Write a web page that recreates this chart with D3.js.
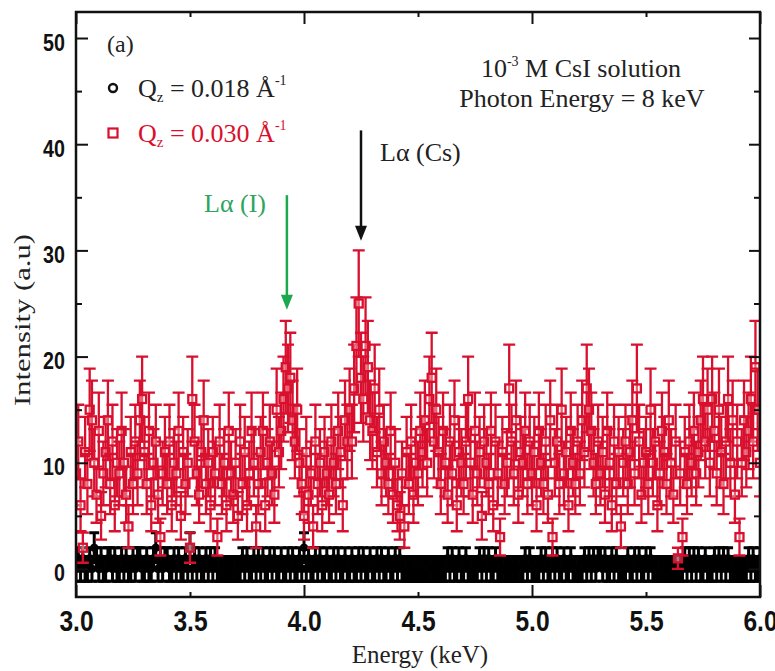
<!DOCTYPE html>
<html>
<head>
<meta charset="utf-8">
<script src="https://cdn.jsdelivr.net/npm/d3@7"></script>
<style>
    body { margin: 0; background: #fff; }
    .tickText { font-family: "Liberation Sans", Arial, sans-serif; font-weight: bold; fill: #111; }
    .serif { font-family: "Liberation Serif", "Times New Roman", serif; }
</style>
</head>
<body>
<svg class="spectrum"></svg>
<script>
// channels: one every 0.01 keV from 3.00 to 6.00
let energyStart = 3.0;
let energyStep = 0.01;
let xTicks = [3.0, 3.5, 4.0, 4.5, 5.0, 5.5, 6.0];
let yTicks = [0, 5, 10, 15, 20, 25, 30, 35, 40, 45, 50];

// Qz = 0.018 A^-1 (black circles), counts per channel
let lowQ = [
    0,1,0,1,0,0,1,0,2,1,  0,1,0,0,1,1,0,1,0,0,  1,0,1,0,0,1,0,1,1,0,
    0,1,0,0,1,2,0,1,0,1,  1,0,0,1,0,1,0,0,1,0,  2,0,1,0,1,0,0,1,0,1,
    0,1,0,0,0,0,0,0,0,0,  0,0,0,1,0,1,0,0,1,0,  1,0,1,0,0,1,0,1,0,0,
    1,0,0,1,0,1,0,0,1,0,  2,0,1,0,0,1,0,1,0,0,  1,0,0,1,0,1,0,0,1,0,
    0,1,0,0,1,0,1,0,0,1,  0,0,1,0,1,0,0,1,0,0,  1,0,1,0,0,0,0,0,0,0,
    0,0,0,0,0,0,0,0,0,0,  0,0,0,1,0,1,0,0,1,0,  0,1,0,0,0,0,0,1,0,1,
    0,1,0,0,1,0,0,0,0,0,  0,0,0,0,0,0,0,1,0,1,  0,0,0,0,1,0,1,0,0,1,
    0,1,0,0,1,0,0,1,0,0,  0,0,0,1,0,1,0,1,0,1,  1,0,1,0,0,1,0,1,0,0,
    0,0,1,0,0,1,0,1,0,0,  1,0,1,0,0,0,0,0,0,0,  0,0,0,0,0,0,0,1,0,1,
    0,1,0,1,0,0,1,0,0,0,  1,0,1,0,1,0,1,0,0,0,  0,0,0,0,0,1,0,1,0,0,
    1
];

// Qz = 0.030 A^-1 (red squares)
let highQ = [
    9,12,6,2,11,8,15,14,10,7,     13,5,9,11,14,8,12,6,10,9,     13,10,7,4,11,8,12,9,14,16,
    11,8,13,6,10,12,7,3,9,11,     8,12,6,10,9,13,5,11,8,10,     2,16,12,9,7,11,14,8,10,6,
    11,9,3,12,8,10,6,13,9,7,      10,5,12,8,11,6,9,13,10,4,     8,11,13,6,10,12,9,7,15,11,
    13,16,19,17,18,14,12,15,10,8, 5,11,7,9,4,12,8,10,6,11,      9,7,12,10,8,13,11,6,14,12,
    15,12,17,21,25,18,16,21,19,14, 13,17,11,15,9,12,10,8,13,7,  10,6,5,9,4,11,8,12,7,10,
    9,13,11,14,10,16,18,12,15,11, 8,13,10,7,12,9,14,6,11,10,    8,12,16,10,7,13,9,11,5,12,
    10,8,13,6,12,9,3,11,8,10,     17,12,9,14,7,11,10,13,8,12,   9,11,6,13,10,8,12,7,14,3,
    10,12,8,15,9,11,6,13,10,8,    12,9,14,11,17,15,13,10,8,12,  9,11,7,13,10,6,12,8,11,4,
    10,12,8,11,14,9,17,12,7,10,   11,8,15,10,12,6,9,13,11,8,    14,10,7,12,1,9,3,11,8,12,
    10,13,9,11,14,16,12,15,10,16, 13,9,15,11,8,12,16,10,14,7,   12,3,10,14,11,13,16,12,19,15,
    10
];

// arrow annotations (keV, intensity)
let csArrow = { e: 4.25, from: 41.3, to: 30.9 };
let iArrow = { e: 3.925, from: 35.2, to: 24.4 };

let red = "#d8102e";
let green = "#1ca84c";
let narrow = 0.82;

let width = 775;
let height = 671;
let plot = { left: 76, right: 760, top: 12, bottom: 597 };

let x = d3.scaleLinear().domain([3, 6]).range([plot.left, plot.right]);
let y = d3.scaleLinear().domain([-2.64, 52.45]).range([plot.bottom, plot.top]);

let svg = d3.select(".spectrum")
    .attr("width", width)
    .attr("height", height);

// counting error, with a one-count floor for empty channels
function countError(v) { return v > 0 ? Math.sqrt(v) : 1.15; }

function toPoints(values) {
    return values.map(function(v, i) {
        return { e: energyStart + i * energyStep, v: v, err: countError(v) };
    });
}

svg.append("clipPath").attr("id", "plotClip")
    .append("rect")
    .attr("x", plot.left).attr("y", plot.top)
    .attr("width", plot.right - plot.left).attr("height", plot.bottom - plot.top);

let dataG = svg.append("g").attr("clip-path", "url(#plotClip)");

function errorPath(d, cap) {
    let px = x(d.e), y0 = y(d.v - d.err), y1 = y(d.v + d.err);
    return "M" + px + "," + y0 + "V" + y1 +
        "M" + (px - cap) + "," + y0 + "H" + (px + cap) +
        "M" + (px - cap) + "," + y1 + "H" + (px + cap);
}

// black series
let lowG = dataG.append("g").selectAll("g")
    .data(toPoints(lowQ))
    .enter().append("g");
lowG.append("path")
    .attr("d", function(d) { return errorPath(d, 5); })
    .attr("stroke", "#000").attr("stroke-width", 3).attr("fill", "none");
lowG.append("circle")
    .attr("cx", function(d) { return x(d.e); })
    .attr("cy", function(d) { return y(d.v); })
    .attr("r", 3)
    .attr("fill", "none").attr("stroke", "#000").attr("stroke-width", 2.2);

// red series
let highG = dataG.append("g").selectAll("g")
    .data(toPoints(highQ))
    .enter().append("g");
highG.append("path")
    .attr("d", function(d) { return errorPath(d, 6); })
    .attr("stroke", red).attr("stroke-width", 2.3).attr("fill", "none");
highG.append("rect")
    .attr("x", function(d) { return x(d.e) - 4; })
    .attr("y", function(d) { return y(d.v) - 4; })
    .attr("width", 8).attr("height", 8)
    .attr("fill", "#fff").attr("fill-opacity", 0.35)
    .attr("stroke", red).attr("stroke-width", 2.3);

// axes, ticks inside the frame
function isMajorX(d) { return Math.abs(d - Math.round(d)) < 1e-6; }
function isMajorY(d) { return d % 10 === 0; }

let bottomAxis = svg.append("g")
    .attr("transform", "translate(0," + plot.bottom + ")")
    .call(d3.axisBottom(x).tickValues(xTicks).tickSizeInner(-5).tickSizeOuter(0)
        .tickPadding(13).tickFormat(d3.format(".1f")));
bottomAxis.selectAll(".tick line").attr("y2", function(d) { return isMajorX(d) ? -12 : -5; });

let topAxis = svg.append("g")
    .attr("transform", "translate(0," + plot.top + ")")
    .call(d3.axisTop(x).tickValues(xTicks).tickSizeInner(-5).tickSizeOuter(0).tickFormat(""));
topAxis.selectAll(".tick line").attr("y2", function(d) { return isMajorX(d) ? 12 : 5; });

let leftAxis = svg.append("g")
    .attr("transform", "translate(" + plot.left + ",0)")
    .call(d3.axisLeft(y).tickValues(yTicks).tickSizeInner(-6).tickSizeOuter(0)
        .tickPadding(11 / narrow).tickFormat(function(d) { return isMajorY(d) ? d : ""; }));
leftAxis.selectAll(".tick line").attr("x2", function(d) { return isMajorY(d) ? 12 : 6; });

let rightAxis = svg.append("g")
    .attr("transform", "translate(" + plot.right + ",0)")
    .call(d3.axisRight(y).tickValues(yTicks).tickSizeInner(-6).tickSizeOuter(0).tickFormat(""));
rightAxis.selectAll(".tick line").attr("x2", function(d) { return isMajorY(d) ? -11 : -6; });

[bottomAxis, topAxis, leftAxis, rightAxis].forEach(function(a) {
    a.select(".domain").remove();
    a.selectAll(".tick line").attr("stroke", "#111").attr("stroke-width", 2);
    a.selectAll(".tick text")
        .attr("class", "tickText").attr("fill", "#111")
        .attr("transform", "scale(" + narrow + ",1)");
});
bottomAxis.selectAll(".tick text").attr("font-size", 30);
leftAxis.selectAll(".tick text").attr("font-size", 24).attr("dy", "0.5em");

// frame
svg.append("rect")
    .attr("x", plot.left).attr("y", plot.top)
    .attr("width", plot.right - plot.left).attr("height", plot.bottom - plot.top)
    .attr("fill", "none").attr("stroke", "#111").attr("stroke-width", 2.5);

// axis titles
svg.append("text").attr("class", "serif")
    .attr("x", 420).attr("y", 663)
    .attr("text-anchor", "middle").attr("font-size", 25).attr("fill", "#222")
    .text("Energy (keV)");

svg.append("text").attr("class", "serif")
    .attr("transform", "translate(30,320) rotate(-90) scale(1.28,1)")
    .attr("text-anchor", "middle").attr("font-size", 24).attr("fill", "#222")
    .text("Intensity (a.u)");

// panel label and legend
svg.append("text").attr("class", "serif")
    .attr("x", 107).attr("y", 52).attr("font-size", 24).attr("fill", "#222")
    .text("(a)");

function legendText(yPos, label, color) {
    let t = svg.append("text").attr("class", "serif")
        .attr("x", 138).attr("y", yPos).attr("font-size", 26).attr("fill", color);
    t.append("tspan").text("Q");
    t.append("tspan").attr("font-size", 15).attr("dy", 5).text("z");
    t.append("tspan").attr("dy", -5).text(" = " + label + " Å");
    t.append("tspan").attr("font-size", 14).attr("dy", -12).text("-1");
}

svg.append("circle")
    .attr("cx", 113).attr("cy", 88).attr("r", 4)
    .attr("fill", "#fff").attr("stroke", "#111").attr("stroke-width", 2.4);
legendText(97, "0.018", "#222");

svg.append("rect")
    .attr("x", 108.5).attr("y", 128.5).attr("width", 9).attr("height", 9)
    .attr("fill", "#fff").attr("stroke", red).attr("stroke-width", 2.2);
legendText(142, "0.030", red);

// sample description
let conc = svg.append("text").attr("class", "serif")
    .attr("x", 581).attr("y", 77).attr("text-anchor", "middle")
    .attr("font-size", 26).attr("fill", "#222");
conc.append("tspan").text("10");
conc.append("tspan").attr("font-size", 14).attr("dy", -11).text("-3");
conc.append("tspan").attr("dy", 11).text(" M CsI solution");

svg.append("text").attr("class", "serif")
    .attr("x", 582).attr("y", 107).attr("text-anchor", "middle")
    .attr("font-size", 26).attr("fill", "#222")
    .text("Photon Energy = 8 keV");

// line annotations
function arrow(a, color) {
    let px = x(a.e), tip = y(a.to);
    svg.append("line")
        .attr("x1", px).attr("x2", px)
        .attr("y1", y(a.from)).attr("y2", tip - 12)
        .attr("stroke", color).attr("stroke-width", 2.5);
    svg.append("path")
        .attr("d", "M" + (px - 6) + "," + (tip - 15) + "L" + (px + 6) + "," + (tip - 15) + "L" + px + "," + tip + "Z")
        .attr("fill", color);
}
arrow(csArrow, "#111");
arrow(iArrow, green);

svg.append("text").attr("class", "serif")
    .attr("x", 380).attr("y", 161).attr("font-size", 26).attr("fill", "#222")
    .text("Lα (Cs)");

svg.append("text").attr("class", "serif")
    .attr("x", 204).attr("y", 212).attr("font-size", 26).attr("fill", "#2ea45e")
    .text("Lα (I)");
</script>
</body>
</html>
